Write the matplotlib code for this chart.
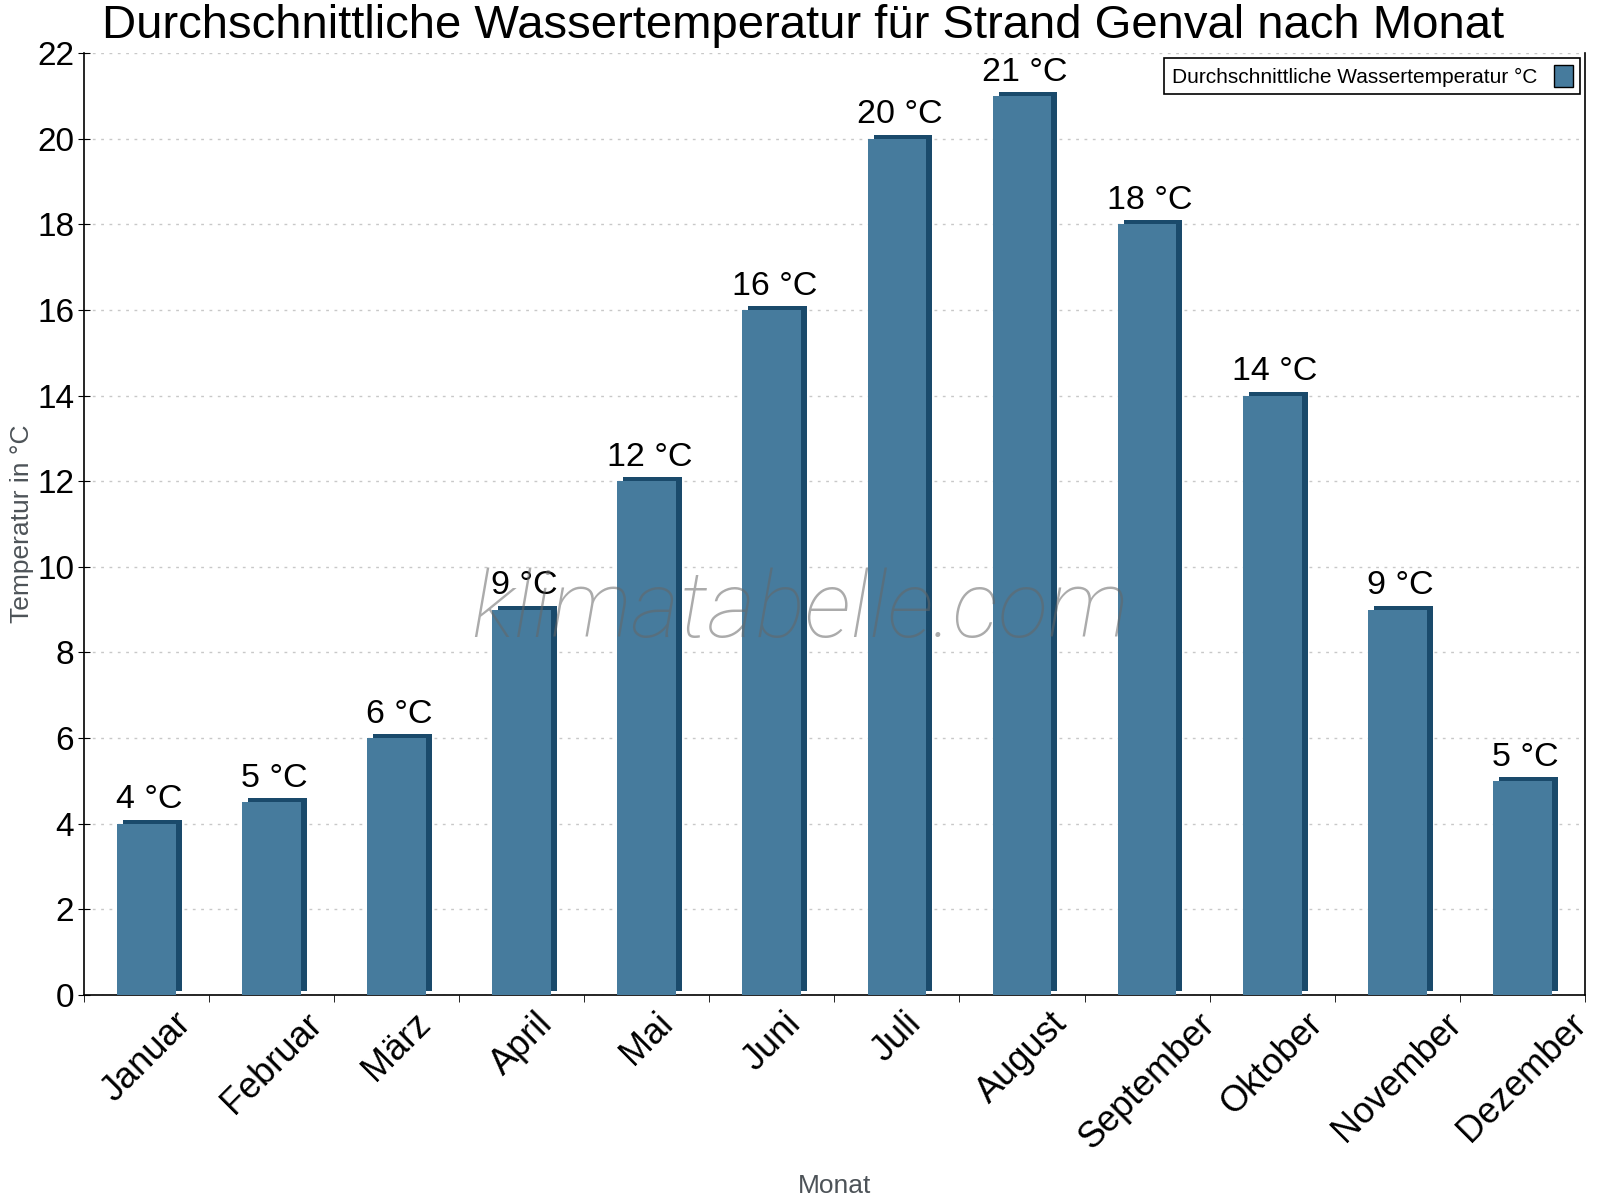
import matplotlib
matplotlib.use("Agg")
import matplotlib.pyplot as plt
import matplotlib.transforms as mtransforms
import numpy as np

plt.rcParams['font.family'] = ['Liberation Sans', 'DejaVu Sans']

# data
months = ["Januar", "Februar", "März", "April", "Mai", "Juni", "Juli",
          "August", "September", "Oktober", "November", "Dezember"]
water_temp = [4, 4.5, 6, 9, 12, 16, 20, 21, 18, 14, 9, 5]
yticks = list(range(0, 23, 2))

front = "#467b9d"
dark = "#1a4a6b"

fig = plt.figure(figsize=(16, 12), dpi=100)
ax = fig.add_axes([0.0525, 0.1708, 0.938, 0.785])

x = np.arange(len(months))
w = 0.47

# fake 3d: darker copy of each bar shifted right/up a few pixels
shift = mtransforms.ScaledTranslation(6 / 100, 4 / 100, fig.dpi_scale_trans)
ax.bar(x, water_temp, width=w, color=dark, transform=ax.transData + shift, zorder=2)
ax.bar(x, water_temp, width=w, color=front, zorder=3,
       label="Durchschnittliche Wassertemperatur °C")

for xi, v in zip(x, water_temp):
    ax.annotate(f"{int(v + 0.5)} °C", (xi, v), xytext=(2, 6), textcoords="offset points",
                ha="center", va="bottom", fontsize=24.5, zorder=5)

ax.set_xlim(-0.5, len(months) - 0.5)
ax.set_ylim(0, 22)
ax.set_yticks(yticks)
ax.set_xticks(x)
ax.set_xticklabels(months, rotation=45, fontsize=26)
ax.set_xticks(np.arange(-0.5, len(months)), minor=True)
ax.tick_params(axis="x", which="major", length=0, pad=8)
ax.tick_params(axis="x", which="minor", length=5, direction="out")
ax.tick_params(axis="y", labelsize=24, length=8, direction="inout", pad=3)

ax.grid(axis="y", linestyle=(0, (2, 4)), color="#c8c8c8", linewidth=1, zorder=0)
ax.spines["top"].set_visible(False)
for s in ["left", "bottom", "right"]:
    ax.spines[s].set_linewidth(1.2)

ax.set_ylabel("Temperatur in °C", fontsize=19, color="#4d5358")
ax.yaxis.set_label_coords(-0.033, 0.5)
ax.set_xlabel("Monat", fontsize=19, color="#4d5358")
ax.xaxis.set_label_coords(0.5, -0.19)

fig.text(0.502, 1 - 38 / 1200, "Durchschnittliche Wassertemperatur für Strand Genval nach Monat",
         ha="center", va="baseline", fontsize=34)

leg = ax.legend(loc="upper right", bbox_to_anchor=(0.9967, 0.9947), borderaxespad=0,
                markerfirst=False, fontsize=15, fancybox=False, edgecolor="black",
                framealpha=1, handlelength=0.9, handleheight=1.2, borderpad=0.35,
                handletextpad=0.8)
leg.get_frame().set_linewidth(1.2)
leg.legend_handles[0].set_edgecolor("black")

# watermark
fig.text(0.5, 588 / 1200, "klimatabelle.com", ha="center", va="center",
         fontsize=67, family="Roboto", fontweight="light", style="italic",
         color="#666666", alpha=0.55, zorder=10)

fig.savefig("out.png", dpi=100)
